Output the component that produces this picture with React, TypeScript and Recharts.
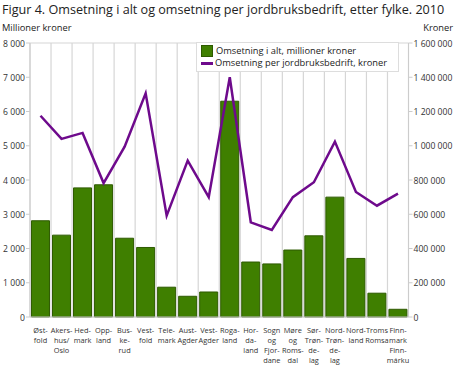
import React from 'react';
import { ComposedChart, Bar, Line, XAxis, YAxis, CartesianGrid } from 'recharts';

const fylker = [
  'Øst-\nfold', 'Akers-\nhus/\nOslo', 'Hed-\nmark', 'Opp-\nland', 'Bus-\nke-\nrud', 'Vest-\nfold',
  'Tele-\nmark', 'Aust-\nAgder', 'Vest-\nAgder', 'Roga-\nland', 'Hor-\nda-\nland', 'Sogn\nog\nFjor-\ndane',
  'Møre\nog\nRoms-\ndal', 'Sør-\nTrøn-\nde-\nlag', 'Nord-\nTrøn-\nde-\nlag', 'Nord-\nland', 'Troms\nRomsa',
  'Finn-\nmark\nFinn-\nmárku',
];

// millioner kroner
const omsetningIAlt = [2810, 2390, 3770, 3860, 2300, 2030, 870, 605, 730, 6300, 1605, 1550, 1955, 2370, 3500, 1710, 695, 225];

// kroner per bedrift
const omsetningPerBedrift = [
  1175000, 1040000, 1075000, 782000, 995000, 1306000, 592000, 913000, 700000, 1400000, 553000, 508000,
  700000, 787000, 1024000, 730000, 650000, 720000,
];

const leftTicks = [0, 1000, 2000, 3000, 4000, 5000, 6000, 7000, 8000];
const rightTicks = [0, 200000, 400000, 600000, 800000, 1000000, 1200000, 1400000, 1600000];

const data = fylker.map((f, i) => ({ fylke: f, alt: omsetningIAlt[i], per: omsetningPerBedrift[i] }));

const GREEN = '#3f7f00';
const PURPLE = '#6e0a8c';
const FONT = '"Open Sans", sans-serif';

const fmt = (v: number) => v.toLocaleString('en-US').replace(/,/g, '\u00a0');

const XTick = (props: any) => {
  const { x, y, payload } = props;
  const lines = String(payload.value).split('\n');
  return (
    <text x={x} y={y + 8} fontSize={7.4} fill="#333" fontFamily={FONT} textAnchor="middle">
      {lines.map((l, i) => (
        <tspan key={i} x={x} dy={i === 0 ? 0 : 10}>{l}</tspan>
      ))}
    </text>
  );
};

const YTick = (props: any) => {
  const { x, y, payload, side } = props;
  const left = side === 'left';
  return (
    <text x={left ? x + 1 : x - 1} y={y + 3.5} fontSize={8.6} fill="#333" fontFamily={FONT} textAnchor={left ? 'end' : 'start'}>
      {fmt(payload.value)}
    </text>
  );
};

export default function App() {
  return (
    <div style={{ position: 'absolute', left: 0, top: 0, width: 456, height: 365, background: '#fff', fontFamily: FONT }}>
      <div style={{ position: 'absolute', left: 2, top: 1, fontSize: 12.6, color: '#222', whiteSpace: 'nowrap' }}>
        Figur 4. Omsetning i alt og omsetning per jordbruksbedrift, etter fylke. 2010
      </div>
      <div style={{ position: 'absolute', left: 2, top: 21, fontSize: 9.3, color: '#222' }}>Millioner kroner</div>
      <div style={{ position: 'absolute', right: 3, top: 21, fontSize: 9.3, color: '#222' }}>Kroner</div>
      <ComposedChart
        width={456}
        height={365}
        data={data}
        margin={{ top: 43, right: 0, left: 0, bottom: 0 }}
        barCategoryGap="7%"
      >
        <CartesianGrid
          stroke="#d6d6d6"
          strokeWidth={1.2}
          verticalCoordinatesGenerator={({ offset }: any) =>
            fylker.map((_, i) => offset.left + (i * offset.width) / fylker.length).concat(offset.left + offset.width)
          }
        />
        <XAxis dataKey="fylke" interval={0} tick={<XTick />} tickLine={false} axisLine={{ stroke: '#ccc' }} height={48} />
        <YAxis
          yAxisId="l"
          domain={[0, 8000]}
          ticks={leftTicks}
          width={30}
          tick={<YTick side="left" />}
          tickLine={{ stroke: '#ccc' }}
          tickSize={4}
          axisLine={{ stroke: '#ccc' }}
        />
        <YAxis
          yAxisId="r"
          orientation="right"
          domain={[0, 1600000]}
          ticks={rightTicks}
          width={47.5}
          tick={<YTick side="right" />}
          tickLine={{ stroke: '#ccc' }}
          tickSize={4}
          axisLine={{ stroke: '#ccc' }}
        />
        <Bar yAxisId="l" dataKey="alt" fill={GREEN} stroke="#2e5a00" strokeWidth={1} isAnimationActive={false} />
        <Line yAxisId="r" dataKey="per" type="linear" stroke={PURPLE} strokeWidth={2.5} dot={false} isAnimationActive={false} />
      </ComposedChart>
      <div
        style={{
          position: 'absolute', left: 196, top: 42, width: 203, boxSizing: 'border-box',
          background: '#fff', border: '1px solid #ddd', padding: '2px 4px',
          fontSize: 9.3, color: '#222', lineHeight: '12px',
        }}
      >
        <div style={{ display: 'flex', alignItems: 'center' }}>
          <span style={{ display: 'inline-block', width: 10, height: 10, background: GREEN, border: '1px solid #2e5a00', marginRight: 3 }} />
          Omsetning i alt, millioner kroner
        </div>
        <div style={{ display: 'flex', alignItems: 'center' }}>
          <span style={{ display: 'inline-block', width: 12, height: 3, background: PURPLE, marginRight: 2 }} />
          Omsetning per jordbruksbedrift, kroner
        </div>
      </div>
    </div>
  );
}
